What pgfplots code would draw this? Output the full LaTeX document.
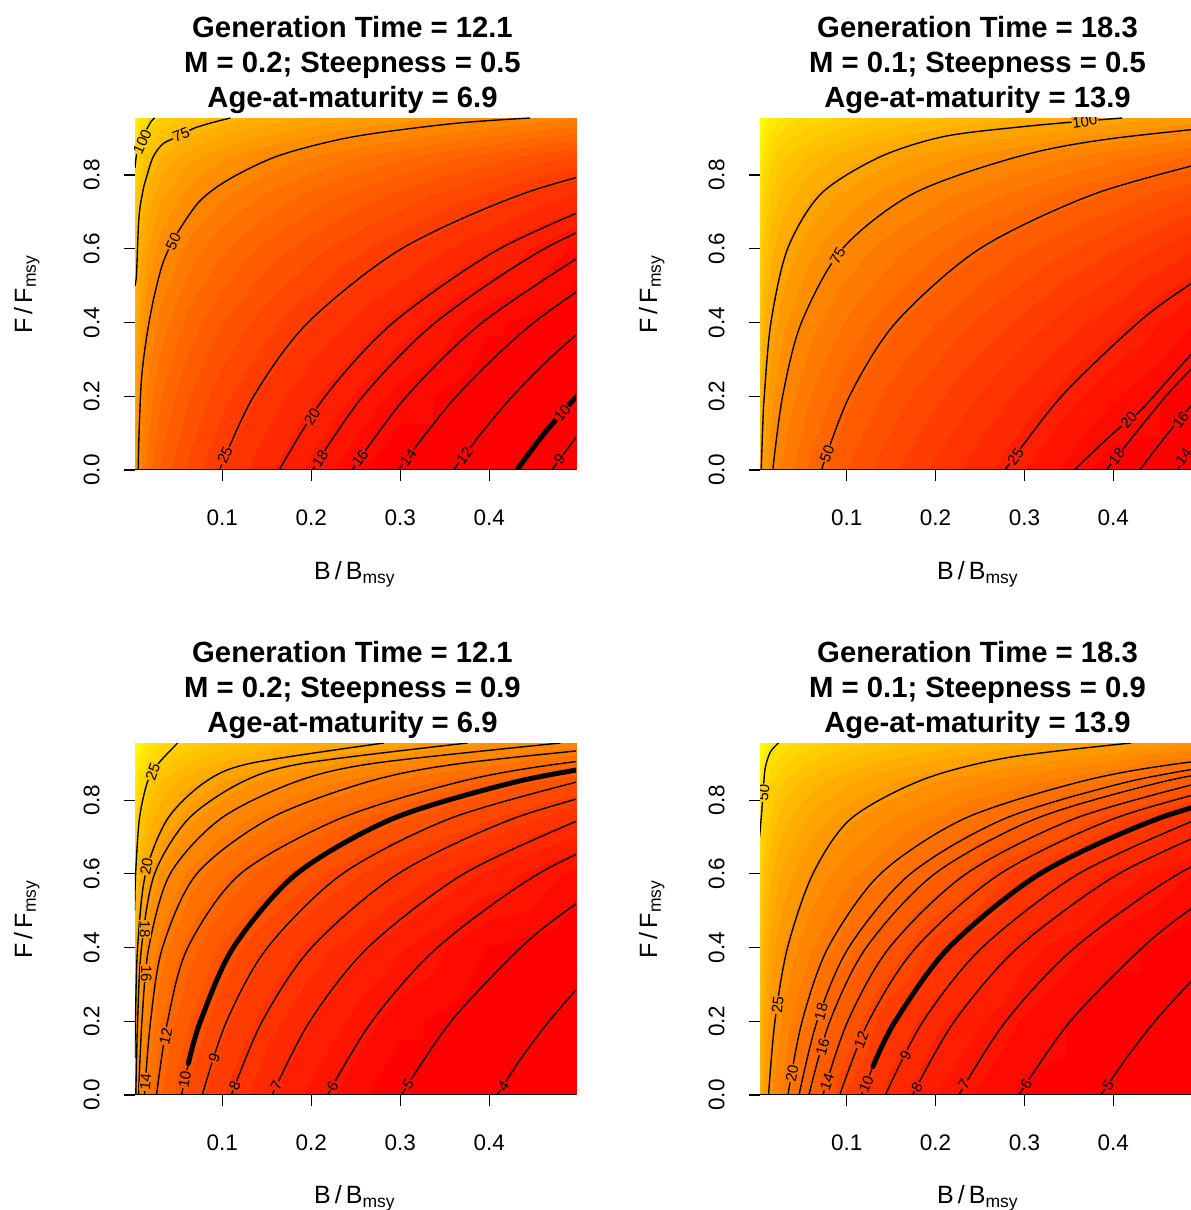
\documentclass[border=0pt]{standalone}
\usepackage{fontspec}
\setmainfont{Liberation Sans}
\usepackage{pgfplots}
\usepackage{pgfplotstable}
\pgfplotsset{compat=1.18}

% grid of values (x = B/Bmsy, y = F/Fmsy, z = contoured quantity)
\pgfplotstableread{
x y z
0.002 0 60.0
0.006 0 50.2
0.015 0 42.0
0.03 0 35.7
0.06 0 29.4
0.1 0 24.7
0.15 0 20.9
0.2 0 18.1
0.3 0 13.9
0.4 0 10.8
0.5 0 8.3
0.002 0.2 66.6
0.006 0.2 55.9
0.015 0.2 47.0
0.03 0.2 40.2
0.06 0.2 33.3
0.1 0.2 28.1
0.15 0.2 23.9
0.2 0.2 20.8
0.3 0.2 16.3
0.4 0.2 12.8
0.5 0.2 9.9
0.002 0.4 75.5
0.006 0.4 63.7
0.015 0.4 53.8
0.03 0.4 46.3
0.06 0.4 38.7
0.1 0.4 32.9
0.15 0.4 28.2
0.2 0.4 24.8
0.3 0.4 19.6
0.4 0.4 15.7
0.5 0.4 12.4
0.002 0.6 88.1
0.006 0.6 74.8
0.015 0.6 63.8
0.03 0.6 55.3
0.06 0.6 46.7
0.1 0.6 40.3
0.15 0.6 34.9
0.2 0.6 31.0
0.3 0.6 25.1
0.4 0.6 20.5
0.5 0.6 16.5
0.002 0.75 102.1
0.006 0.75 87.5
0.015 0.75 75.3
0.03 0.75 65.9
0.06 0.75 56.4
0.1 0.75 49.2
0.15 0.75 43.2
0.2 0.75 38.8
0.3 0.75 32.1
0.4 0.75 26.8
0.5 0.75 22.2
0.002 0.85 116.2
0.006 0.85 100.5
0.015 0.85 87.3
0.03 0.85 77.2
0.06 0.85 66.9
0.1 0.85 59.1
0.15 0.85 52.6
0.2 0.85 47.8
0.3 0.85 40.4
0.4 0.85 34.5
0.5 0.85 29.3
0.002 0.955 144.1
0.006 0.955 127.0
0.015 0.955 112.6
0.03 0.955 101.6
0.06 0.955 90.3
0.1 0.955 81.7
0.15 0.955 74.5
0.2 0.955 69.2
0.3 0.955 60.9
0.4 0.955 54.2
0.5 0.955 48.1
}\dataA

\pgfplotstableread{
x y z
0.002 0 111.4
0.006 0 92.7
0.015 0 77.1
0.03 0 65.1
0.06 0 53.1
0.1 0 44.1
0.15 0 36.7
0.2 0 31.3
0.3 0 23.5
0.4 0 17.6
0.5 0 12.7
0.002 0.2 124.1
0.006 0.2 103.7
0.015 0.2 86.6
0.03 0.2 73.6
0.06 0.2 60.5
0.1 0.2 50.6
0.15 0.2 42.5
0.2 0.2 36.6
0.3 0.2 27.9
0.4 0.2 21.3
0.5 0.2 15.8
0.002 0.4 141.0
0.006 0.4 118.5
0.015 0.4 99.7
0.03 0.4 85.3
0.06 0.4 70.7
0.1 0.4 59.8
0.15 0.4 50.8
0.2 0.4 44.2
0.3 0.4 34.4
0.4 0.4 26.9
0.5 0.4 20.5
0.002 0.6 165.1
0.006 0.6 139.8
0.015 0.6 118.7
0.03 0.6 102.6
0.06 0.6 86.1
0.1 0.6 73.7
0.15 0.6 63.6
0.2 0.6 56.0
0.3 0.6 44.7
0.4 0.6 36.0
0.5 0.6 28.5
0.002 0.75 191.9
0.006 0.75 164.0
0.015 0.75 140.7
0.03 0.75 122.8
0.06 0.75 104.6
0.1 0.75 90.9
0.15 0.75 79.5
0.2 0.75 71.0
0.3 0.75 58.2
0.4 0.75 48.1
0.5 0.75 39.3
0.002 0.85 218.8
0.006 0.85 188.7
0.015 0.85 163.6
0.03 0.85 144.3
0.06 0.85 124.7
0.1 0.85 109.8
0.15 0.85 97.4
0.2 0.85 88.1
0.3 0.85 74.0
0.4 0.85 62.8
0.5 0.85 52.8
0.002 0.955 272.1
0.006 0.955 239.4
0.015 0.955 211.9
0.03 0.955 190.8
0.06 0.955 169.3
0.1 0.955 152.9
0.15 0.955 139.2
0.2 0.955 129.0
0.3 0.955 113.2
0.4 0.955 100.3
0.5 0.955 88.7
}\dataB

\pgfplotstableread{
x y z
0.002 0 19.0
0.006 0 16.0
0.015 0 13.5
0.03 0 11.6
0.06 0 9.7
0.1 0 8.3
0.15 0 7.1
0.2 0 6.3
0.3 0 5.0
0.4 0 4.1
0.5 0 3.3
0.002 0.2 20.6
0.006 0.2 17.4
0.015 0.2 14.8
0.03 0.2 12.7
0.06 0.2 10.7
0.1 0.2 9.2
0.15 0.2 7.9
0.2 0.2 7.0
0.3 0.2 5.6
0.4 0.2 4.6
0.5 0.2 3.7
0.002 0.4 22.8
0.006 0.4 19.4
0.015 0.4 16.5
0.03 0.4 14.3
0.06 0.4 12.1
0.1 0.4 10.4
0.15 0.4 9.0
0.2 0.4 8.0
0.3 0.4 6.5
0.4 0.4 5.4
0.5 0.4 4.4
0.002 0.6 26.9
0.006 0.6 23.0
0.015 0.6 19.7
0.03 0.6 17.2
0.06 0.6 14.6
0.1 0.6 12.7
0.15 0.6 11.1
0.2 0.6 10.0
0.3 0.6 8.2
0.4 0.6 6.85
0.5 0.6 5.7
0.002 0.75 32.2
0.006 0.75 27.7
0.015 0.75 24.0
0.03 0.75 21.1
0.06 0.75 18.2
0.1 0.75 15.9
0.15 0.75 14.1
0.2 0.75 12.7
0.3 0.75 10.7
0.4 0.75 9.05
0.5 0.75 7.6
0.002 0.85 36.6
0.006 0.85 31.8
0.015 0.85 27.7
0.03 0.85 24.6
0.06 0.85 21.4
0.1 0.85 19.0
0.15 0.85 17.0
0.2 0.85 15.5
0.3 0.85 13.2
0.4 0.85 11.4
0.5 0.85 9.8
0.002 0.955 45.3
0.006 0.955 40.0
0.015 0.955 35.5
0.03 0.955 32.1
0.06 0.955 28.6
0.1 0.955 26.0
0.15 0.955 23.8
0.2 0.955 22.1
0.3 0.955 19.6
0.4 0.955 17.5
0.5 0.955 15.6
}\dataC

\pgfplotstableread{
x y z
0.002 0 36.1
0.006 0 29.7
0.015 0 24.4
0.03 0 20.7
0.06 0 15.6
0.1 0 11.3
0.15 0 8.8
0.2 0 7.5
0.3 0 5.9
0.4 0 4.9
0.5 0 4.0
0.002 0.2 39.8
0.006 0.2 32.9
0.015 0.2 27.2
0.03 0.2 23.0
0.06 0.2 18.7
0.1 0.2 14.1
0.15 0.2 10.3
0.2 0.2 8.6
0.3 0.2 6.7
0.4 0.2 5.5
0.5 0.2 4.5
0.002 0.4 44.9
0.006 0.4 37.4
0.015 0.4 31.1
0.03 0.4 26.4
0.06 0.4 21.8
0.1 0.4 18.2
0.15 0.4 13.9
0.2 0.4 10.8
0.3 0.4 7.9
0.4 0.4 6.4
0.5 0.4 5.3
0.002 0.6 52.2
0.006 0.6 43.9
0.015 0.6 36.9
0.03 0.6 31.6
0.06 0.6 26.3
0.1 0.6 22.4
0.15 0.6 19.2
0.2 0.6 15.9
0.3 0.6 10.7
0.4 0.6 8.1
0.5 0.6 6.6
0.002 0.75 60.4
0.006 0.75 51.3
0.015 0.75 43.7
0.03 0.75 37.9
0.06 0.75 32.0
0.1 0.75 27.5
0.15 0.75 23.9
0.2 0.75 21.4
0.3 0.75 16.7
0.4 0.75 12.0
0.5 0.75 8.9
0.002 0.85 68.7
0.006 0.85 59.0
0.015 0.85 50.9
0.03 0.85 44.6
0.06 0.85 38.3
0.1 0.85 33.5
0.15 0.85 29.4
0.2 0.85 26.5
0.3 0.85 22.2
0.4 0.85 18.6
0.5 0.85 14.1
0.002 0.955 85.4
0.006 0.955 74.9
0.015 0.955 66.1
0.03 0.955 59.3
0.06 0.955 52.4
0.1 0.955 47.1
0.15 0.955 42.7
0.2 0.955 39.4
0.3 0.955 34.3
0.4 0.955 30.2
0.5 0.955 26.5
}\dataD

\pgfplotsset{
  panel/.style={
    scale only axis, anchor=south west,
    height=140.8pt, ymin=0, ymax=0.955,
    xtick={0.1,0.2,0.3,0.4}, xticklabels={0.1,0.2,0.3,0.4},
    ytick={0,0.2,0.4,0.6,0.8}, yticklabels={0.0,0.2,0.4,0.6,0.8},
    tick pos=left, tick align=outside, major tick length=4.4pt,
    tick style={black, line width=0.5pt},
    axis line style={draw=none},
    tick label style={font=\fontsize{9}{10}\selectfont, inner sep=0pt},
    xticklabel style={anchor=north},
    yticklabel style={rotate=90, anchor=south},
    xticklabel shift=11.2pt, yticklabel shift=9.6pt,
    colormap={heat}{rgb255=(255,0,0) rgb255=(255,10,0) rgb255=(255,20,0)
      rgb255=(255,31,0) rgb255=(255,41,0) rgb255=(255,51,0) rgb255=(255,61,0)
      rgb255=(255,71,0) rgb255=(255,82,0) rgb255=(255,92,0) rgb255=(255,102,0)
      rgb255=(255,112,0) rgb255=(255,122,0) rgb255=(255,133,0) rgb255=(255,143,0)
      rgb255=(255,153,0) rgb255=(255,163,0) rgb255=(255,173,0) rgb255=(255,184,0)
      rgb255=(255,194,0) rgb255=(255,204,0) rgb255=(255,214,0) rgb255=(255,224,0)
      rgb255=(255,235,0) rgb255=(255,245,0) rgb255=(255,255,0)},
    colormap access=piecewise constant,
  },
  bg/.style={surf, shader=interp, mesh/rows=7, mesh/cols=11,
    point meta={ln(\thisrow{z})}},
  cl/.style={black, line width=0.55pt, smooth, mark=none},
  ct/.style={black, line width=2pt, smooth, mark=none, line cap=round},
}
\tikzset{lab/.style={font=\fontsize{6}{6}\selectfont, inner sep=0.3pt}}
\newcommand\clab[5]{\node[lab,rotate=#3,fill={rgb,255:red,255;green,#4;blue,0}] at (axis cs:#1,#2) {#5};}
\newcommand\tfont{\fontsize{11.7}{14}\selectfont\bfseries}
\newcommand\afont{\fontsize{10}{12}\selectfont}

\begin{document}
\begin{tikzpicture}

% ---------------- panel 1 ----------------
\begin{axis}[panel, at={(54pt,296pt)}, width=176.4pt, xmin=0.002, xmax=0.4974,
  point meta min=2.639, point meta max=5.106]
\addplot[bg] table {\dataA};
\addplot[cl] coordinates {(0.002,0.82) (0.004,0.86) (0.008,0.89) (0.013,0.915) (0.02,0.945) (0.024,0.955)};
\addplot[cl] coordinates {(0.002,0.50) (0.0037,0.53) (0.0056,0.65) (0.0075,0.71) (0.012,0.77) (0.015,0.795) (0.0225,0.85) (0.034,0.886) (0.054,0.908) (0.067,0.926) (0.085,0.94) (0.109,0.955)};
\addplot[cl] coordinates {(0.0056,0) (0.0067,0.11) (0.0094,0.25) (0.015,0.36) (0.0225,0.46) (0.0318,0.55) (0.04,0.60) (0.05,0.645) (0.0749,0.73) (0.1086,0.79) (0.1648,0.854) (0.247,0.904) (0.3596,0.94) (0.4457,0.955)};
\addplot[cl] coordinates {(0.0969,0) (0.1352,0.2) (0.1963,0.4) (0.3012,0.6) (0.4386,0.75) (0.586,0.85)};
\addplot[cl] coordinates {(0.164,0) (0.2156,0.2) (0.2921,0.4) (0.4114,0.6) (0.551,0.75)};
\addplot[cl] coordinates {(0.2012,0) (0.258,0.2) (0.3394,0.4) (0.4617,0.6) (0.598,0.75)};
\addplot[cl] coordinates {(0.2457,0) (0.307,0.2) (0.392,0.4) (0.515,0.6)};
\addplot[cl] coordinates {(0.298,0) (0.363,0.2) (0.450,0.4) (0.570,0.6)};
\addplot[cl] coordinates {(0.3597,0) (0.391,0.1) (0.426,0.2) (0.4668,0.3) (0.513,0.4)};
\addplot[ct] coordinates {(0.431,0) (0.462,0.1) (0.498,0.2)};
\addplot[cl] coordinates {(0.470,0) (0.501,0.1)};
\clab{0.010}{0.89}{65}{203}{100}
\clab{0.054}{0.909}{22}{173}{75}
\clab{0.045}{0.62}{64}{133}{50}
\clab{0.103}{0.04}{65}{60}{25}
\clab{0.201}{0.145}{58}{37}{20}
\clab{0.21}{0.03}{56}{26}{18}
\clab{0.255}{0.032}{54}{14}{16}
\clab{0.309}{0.034}{52}{0}{14}
\clab{0.372}{0.04}{53}{0}{12}
\clab{0.482}{0.155}{50}{0}{10}
\clab{0.479}{0.03}{50}{0}{9}
\draw[black, line width=0.6pt] (rel axis cs:0,0) -- (rel axis cs:1,0);
\end{axis}

% ---------------- panel 2 ----------------
\begin{axis}[panel, at={(304pt,296pt)}, width=175.8pt, xmin=0.0025, xmax=0.497,
  point meta min=2.833, point meta max=5.598]
\addplot[bg] table {\dataB};
\addplot[cl] coordinates {(0.0039,0) (0.0053,0.1) (0.0073,0.2) (0.0148,0.4) (0.0335,0.6) (0.0714,0.75) (0.138,0.85) (0.21,0.905) (0.30,0.932) (0.37,0.947) (0.41,0.955)};
\addplot[cl] coordinates {(0.0169,0) (0.0279,0.2) (0.0491,0.4) (0.0951,0.6) (0.175,0.75) (0.2924,0.85) (0.401,0.9) (0.619,0.955)};
\addplot[cl] coordinates {(0.0716,0) (0.1031,0.2) (0.1553,0.4) (0.2496,0.6) (0.380,0.75) (0.5295,0.85)};
\addplot[cl] coordinates {(0.278,0) (0.3417,0.2) (0.428,0.4) (0.484,0.5) (0.549,0.6)};
\addplot[cl] coordinates {(0.356,0) (0.40,0.1) (0.43,0.16) (0.46,0.24) (0.49,0.32)};
\addplot[cl] coordinates {(0.392,0) (0.459,0.2) (0.4985,0.3)};
\addplot[cl] coordinates {(0.4296,0) (0.4617,0.1) (0.4967,0.2)};
\addplot[cl] coordinates {(0.4716,0) (0.5025,0.1)};
\clab{0.368}{0.946}{8}{163}{100}
\clab{0.09}{0.58}{61}{137}{75}
\clab{0.078}{0.045}{69}{99}{50}
\clab{0.29}{0.036}{55}{36}{25}
\clab{0.4175}{0.135}{48}{15}{20}
\clab{0.404}{0.036}{52}{6}{18}
\clab{0.476}{0.136}{52}{0}{16}
\clab{0.479}{0.036}{53}{0}{14}
\draw[black, line width=0.6pt] (rel axis cs:0,0) -- (rel axis cs:1,0);
\end{axis}

% ---------------- panel 3 ----------------
\begin{axis}[panel, at={(54pt,46pt)}, width=176.4pt, xmin=0.002, xmax=0.4974,
  point meta min=1.609, point meta max=3.784]
\addplot[bg] table {\dataC};
\addplot[cl] coordinates {(0.0016,0.5) (0.0027,0.6) (0.007,0.75) (0.0161,0.85) (0.0285,0.9) (0.05,0.955)};
\addplot[cl] coordinates {(0.0018,0.1) (0.0025,0.2) (0.0049,0.4) (0.0138,0.6) (0.0388,0.75) (0.0813,0.85) (0.132,0.9) (0.2817,0.955)};
\addplot[cl] coordinates {(0.0029,0) (0.0049,0.2) (0.0093,0.4) (0.024,0.6) (0.0623,0.75) (0.1231,0.85) (0.1916,0.9) (0.3756,0.955)};
\addplot[cl] coordinates {(0.006,0) (0.0098,0.2) (0.0175,0.4) (0.0415,0.6) (0.0984,0.75) (0.1827,0.85) (0.2707,0.9) (0.48,0.955)};
\addplot[cl] coordinates {(0.0126,0) (0.0195,0.2) (0.0329,0.4) (0.0713,0.6) (0.1533,0.75) (0.2638,0.85) (0.3693,0.9) (0.5884,0.955)};
\addplot[cl] coordinates {(0.0262,0) (0.0386,0.2) (0.0613,0.4) (0.1204,0.6) (0.2324,0.75) (0.3672,0.85) (0.4827,0.9) (0.691,0.955)};
\addplot[cl] coordinates {(0.0542,0) (0.062,0.086)};
\addplot[ct] coordinates {(0.062,0.086) (0.0755,0.2) (0.1124,0.4) (0.1834,0.6) (0.2919,0.75) (0.4307,0.85) (0.544,0.9)};
\addplot[cl] coordinates {(0.0775,0) (0.1049,0.2) (0.1508,0.4) (0.235,0.6) (0.3556,0.75) (0.4996,0.85)};
\addplot[cl] coordinates {(0.1103,0) (0.1449,0.2) (0.2003,0.4) (0.2974,0.6) (0.427,0.75) (0.5706,0.85)};
\addplot[cl] coordinates {(0.156,0) (0.1984,0.2) (0.2636,0.4) (0.3712,0.6) (0.5047,0.75)};
\addplot[cl] coordinates {(0.2182,0) (0.2682,0.2) (0.3416,0.4) (0.455,0.6) (0.586,0.75)};
\addplot[cl] coordinates {(0.3012,0) (0.357,0.2) (0.4353,0.4) (0.4865,0.5) (0.5486,0.6)};
\addplot[cl] coordinates {(0.4088,0) (0.4359,0.1) (0.467,0.2) (0.5028,0.3)};
\clab{0.022}{0.877}{70}{189}{25}
\clab{0.0150}{0.62}{80}{163}{20}
\clab{0.013}{0.45}{-90}{150}{18}
\clab{0.0148}{0.33}{-90}{136}{16}
\clab{0.0138}{0.036}{84}{121}{14}
\clab{0.0365}{0.16}{78}{103}{12}
\clab{0.058}{0.043}{80}{81}{10}
\clab{0.091}{0.1}{71}{69}{9}
\clab{0.114}{0.025}{67}{55}{8}
\clab{0.161}{0.025}{63}{40}{7}
\clab{0.224}{0.025}{59}{21}{6}
\clab{0.309}{0.03}{56}{0}{5}
\clab{0.416}{0.025}{56}{0}{4}
\draw[black, line width=0.6pt] (rel axis cs:0,0) -- (rel axis cs:1,0);
\end{axis}

% ---------------- panel 4 ----------------
\begin{axis}[panel, at={(304pt,46pt)}, width=175.8pt, xmin=0.0025, xmax=0.497,
  point meta min=1.705, point meta max=4.443]
\addplot[bg] table {\dataD};
\addplot[cl] coordinates {(0.002,0.70) (0.0043,0.764) (0.006,0.82) (0.0082,0.885) (0.014,0.93) (0.0231,0.955)};
\addplot[cl] coordinates {(0.0121,0) (0.0193,0.2) (0.0335,0.4) (0.062,0.6) (0.105,0.75) (0.185,0.855) (0.28,0.915) (0.42,0.955)};
\addplot[cl] coordinates {(0.0339,0) (0.0499,0.2) (0.0791,0.4) (0.138,0.6) (0.2326,0.75) (0.363,0.85) (0.476,0.9) (0.683,0.955)};
\addplot[cl] coordinates {(0.0464,0) (0.0667,0.2) (0.1023,0.4) (0.1717,0.6) (0.278,0.75) (0.417,0.85) (0.531,0.9)};
\addplot[cl] coordinates {(0.0575,0) (0.0811,0.2) (0.122,0.4) (0.199,0.6) (0.3133,0.75) (0.456,0.85) (0.569,0.9)};
\addplot[cl] coordinates {(0.0732,0) (0.1012,0.2) (0.1481,0.4) (0.2343,0.6) (0.3566,0.75) (0.502,0.85)};
\addplot[cl] coordinates {(0.0922,0) (0.1247,0.2) (0.178,0.4) (0.2726,0.6) (0.401,0.75) (0.547,0.85)};
\addplot[cl] coordinates {(0.1168,0) (0.1295,0.077)};
\addplot[ct] coordinates {(0.1295,0.077) (0.1546,0.2) (0.215,0.4) (0.3173,0.6) (0.4505,0.75) (0.5946,0.85)};
\addplot[cl] coordinates {(0.1435,0) (0.186,0.2) (0.2524,0.4) (0.3608,0.6) (0.496,0.75)};
\addplot[cl] coordinates {(0.174,0) (0.2212,0.2) (0.2928,0.4) (0.406,0.6) (0.541,0.75)};
\addplot[cl] coordinates {(0.2261,0) (0.279,0.2) (0.3567,0.4) (0.4733,0.6) (0.6045,0.75)};
\addplot[cl] coordinates {(0.2937,0) (0.3516,0.2) (0.4328,0.4) (0.4846,0.5) (0.548,0.6)};
\addplot[cl] coordinates {(0.3861,0) (0.4147,0.1) (0.4468,0.2) (0.4843,0.3) (0.5273,0.4)};
\clab{0.0065}{0.82}{82}{206}{50}
\clab{0.0224}{0.244}{84}{141}{25}
\clab{0.0386}{0.059}{79}{120}{20}
\clab{0.0713}{0.226}{76}{110}{18}
\clab{0.073}{0.131}{74}{99}{16}
\clab{0.078}{0.036}{71}{87}{14}
\clab{0.1164}{0.149}{69}{73}{12}
\clab{0.122}{0.03}{66}{56}{10}
\clab{0.1665}{0.1085}{63}{46}{9}
\clab{0.179}{0.022}{60}{35}{8}
\clab{0.232}{0.03}{57}{22}{7}
\clab{0.302}{0.03}{55}{8}{6}
\clab{0.394}{0.027}{55}{0}{5}
\draw[black, line width=0.6pt] (rel axis cs:0,0) -- (rel axis cs:1,0);
\end{axis}

% ---------------- titles and axis labels ----------------
\node[anchor=base, font=\tfont] at (141pt,469pt) {Generation Time = 12.1};
\node[anchor=base, font=\tfont] at (141pt,455pt) {M = 0.2; Steepness = 0.5};
\node[anchor=base, font=\tfont] at (141pt,441pt) {Age-at-maturity = 6.9};
\node[anchor=base, font=\tfont] at (391pt,469pt) {Generation Time = 18.3};
\node[anchor=base, font=\tfont] at (391pt,455pt) {M = 0.1; Steepness = 0.5};
\node[anchor=base, font=\tfont] at (391pt,441pt) {Age-at-maturity = 13.9};
\node[anchor=base, font=\tfont] at (141pt,219pt) {Generation Time = 12.1};
\node[anchor=base, font=\tfont] at (141pt,205pt) {M = 0.2; Steepness = 0.9};
\node[anchor=base, font=\tfont] at (141pt,191pt) {Age-at-maturity = 6.9};
\node[anchor=base, font=\tfont] at (391pt,219pt) {Generation Time = 18.3};
\node[anchor=base, font=\tfont] at (391pt,205pt) {M = 0.1; Steepness = 0.9};
\node[anchor=base, font=\tfont] at (391pt,191pt) {Age-at-maturity = 13.9};

\node[anchor=base, font=\afont] at (142pt,252pt) {B\,/\,B\textsubscript{msy}};
\node[anchor=base, font=\afont] at (391.2pt,252pt) {B\,/\,B\textsubscript{msy}};
\node[anchor=base, font=\afont] at (142pt,2.5pt) {B\,/\,B\textsubscript{msy}};
\node[anchor=base, font=\afont] at (391.2pt,2.5pt) {B\,/\,B\textsubscript{msy}};
\node[anchor=base, font=\afont, rotate=90] at (12.8pt,366.4pt) {F\,/\,F\textsubscript{msy}};
\node[anchor=base, font=\afont, rotate=90] at (262.8pt,366.4pt) {F\,/\,F\textsubscript{msy}};
\node[anchor=base, font=\afont, rotate=90] at (12.8pt,116.4pt) {F\,/\,F\textsubscript{msy}};
\node[anchor=base, font=\afont, rotate=90] at (262.8pt,116.4pt) {F\,/\,F\textsubscript{msy}};

\pgfresetboundingbox
\useasboundingbox (0,0) rectangle (476pt,484pt);
\end{tikzpicture}
\end{document}
